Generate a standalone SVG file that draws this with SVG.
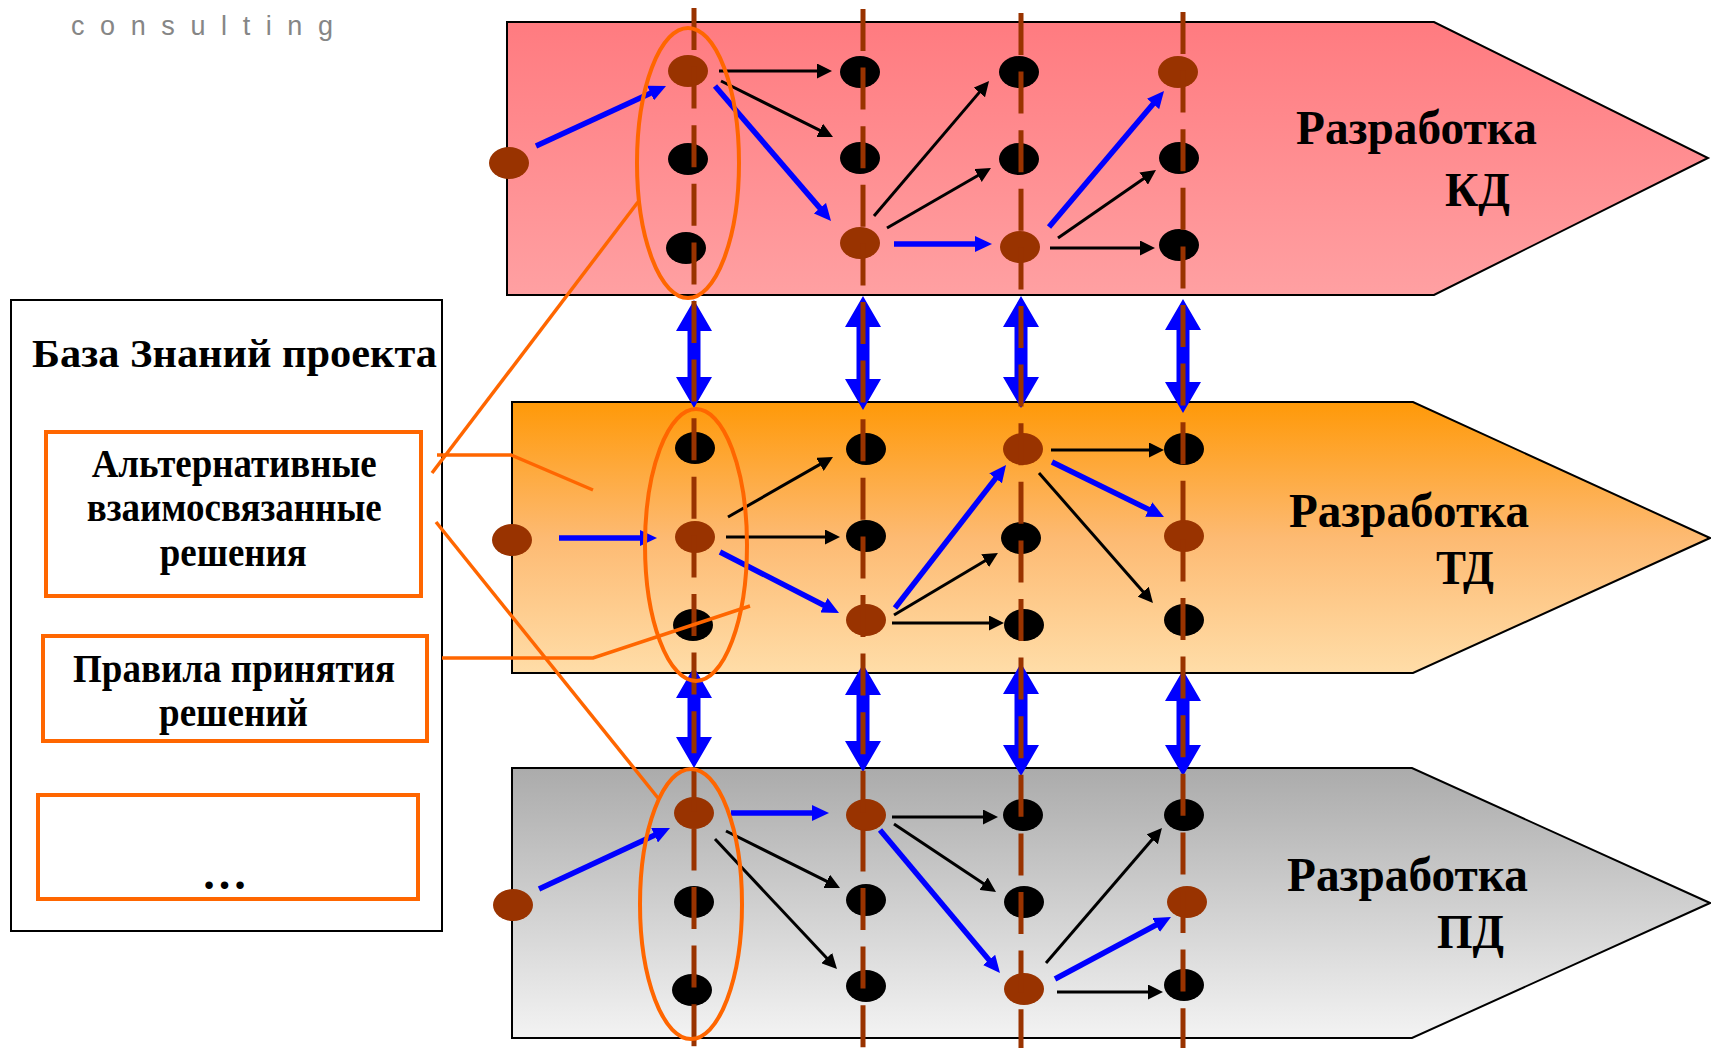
<svg xmlns="http://www.w3.org/2000/svg" width="1711" height="1048" viewBox="0 0 1711 1048">
  <style>
    .band { stroke: #000; stroke-width: 2; }
    .t { font-family: "Liberation Serif", "Times New Roman", serif; font-weight: bold; fill: #000; }
    .nb { fill: #993300; }
    .nk { fill: #000; }
    .col { stroke: #993300; stroke-width: 5; stroke-dasharray: 42 16.6; fill: none; }
    .dbl { fill: #0000FF; }
    .ak { stroke: #000; stroke-width: 3; fill: none; marker-end: url(#ah-k); }
    .ab { stroke: #0000FF; stroke-width: 5.5; fill: none; marker-end: url(#ah-b); }
    .sel { fill: none; stroke: #FF6600; stroke-width: 4; }
    .lead { fill: none; stroke: #FF6600; stroke-width: 3.5; }
    .box { fill: none; stroke: #FF6600; stroke-width: 4; }
  </style>
  <defs>
    <linearGradient id="g-kd" x1="0" y1="0" x2="0" y2="1">
      <stop offset="0" stop-color="#FF7B80"/>
      <stop offset="1" stop-color="#FFA0A2"/>
    </linearGradient>
    <linearGradient id="g-td" x1="0" y1="0" x2="0" y2="1">
      <stop offset="0" stop-color="#FF9908"/>
      <stop offset="0.5" stop-color="#FDBA72"/>
      <stop offset="1" stop-color="#FFDDA8"/>
    </linearGradient>
    <linearGradient id="g-pd" x1="0" y1="0" x2="0" y2="1">
      <stop offset="0" stop-color="#ABABAB"/>
      <stop offset="1" stop-color="#F3F3F3"/>
    </linearGradient>
    <marker id="ah-k" markerUnits="userSpaceOnUse" markerWidth="15" markerHeight="15" refX="2" refY="7.5" orient="auto">
      <path d="M0,0 L15,7.5 L0,15 z" fill="#000"/>
    </marker>
    <marker id="ah-b" markerUnits="userSpaceOnUse" markerWidth="17" markerHeight="16" refX="1" refY="8" orient="auto">
      <path d="M0,0 L17,8 L0,16 z" fill="#0000FF"/>
    </marker>
  </defs>

  <rect width="1711" height="1048" fill="#fff"/>

  <!-- logo caption -->
  <text x="71" y="35" font-family="Liberation Sans, Arial, sans-serif" font-size="27" fill="#868686" textLength="262" lengthAdjust="spacing">consulting</text>

  <!-- stage bands -->
  <g id="band-kd">
    <polygon class="band" fill="url(#g-kd)" points="507,22 1434,22 1708,158 1434,295 507,295"/>
    <text class="t" x="1296" y="144" font-size="48" textLength="241" lengthAdjust="spacingAndGlyphs">Разработка</text>
    <text class="t" x="1445" y="206" font-size="48" textLength="65" lengthAdjust="spacingAndGlyphs">КД</text>
  </g>
  <g id="band-td">
    <polygon class="band" fill="url(#g-td)" points="512,402 1413,402 1710,538 1413,673 512,673"/>
    <text class="t" x="1289" y="527" font-size="48" textLength="240" lengthAdjust="spacingAndGlyphs">Разработка</text>
    <text class="t" x="1436" y="584" font-size="48" textLength="58" lengthAdjust="spacingAndGlyphs">ТД</text>
  </g>
  <g id="band-pd">
    <polygon class="band" fill="url(#g-pd)" points="512,768 1412,768 1710,903 1412,1038 512,1038"/>
    <text class="t" x="1287" y="891" font-size="48" textLength="241" lengthAdjust="spacingAndGlyphs">Разработка</text>
    <text class="t" x="1437" y="948" font-size="48" textLength="67" lengthAdjust="spacingAndGlyphs">ПД</text>
  </g>

  <!-- links between stages -->
  <g id="stage-links">
    <path class="dbl" d="M694,300 L712,331 L700.5,331 L700.5,377 L712,377 L694,408 L676,377 L687.5,377 L687.5,331 L676,331 Z"/>
    <path class="dbl" d="M863,296 L881,327 L869.5,327 L869.5,379 L881,379 L863,410 L845,379 L856.5,379 L856.5,327 L845,327 Z"/>
    <path class="dbl" d="M1021,296 L1039,327 L1027.5,327 L1027.5,377 L1039,377 L1021,408 L1003,377 L1014.5,377 L1014.5,327 L1003,327 Z"/>
    <path class="dbl" d="M1183,299 L1201,330 L1189.5,330 L1189.5,382 L1201,382 L1183,413 L1165,382 L1176.5,382 L1176.5,330 L1165,330 Z"/>
    <path class="dbl" d="M694,667 L712,698 L700.5,698 L700.5,737 L712,737 L694,768 L676,737 L687.5,737 L687.5,698 L676,698 Z"/>
    <path class="dbl" d="M863,664 L881,695 L869.5,695 L869.5,741 L881,741 L863,772 L845,741 L856.5,741 L856.5,695 L845,695 Z"/>
    <path class="dbl" d="M1021,663 L1039,694 L1027.5,694 L1027.5,745 L1039,745 L1021,776 L1003,745 L1014.5,745 L1014.5,694 L1003,694 Z"/>
    <path class="dbl" d="M1183,670 L1201,701 L1189.5,701 L1189.5,745 L1201,745 L1183,776 L1165,745 L1176.5,745 L1176.5,701 L1165,701 Z"/>
  </g>

  <!-- decision nodes: KD -->
  <g id="kd-start"><ellipse class="nb" cx="509" cy="163" rx="20" ry="16"/></g>
  <g id="kd-c1-r1"><ellipse class="nb" cx="688" cy="71" rx="20" ry="16"/></g>
  <g id="kd-c1-r2"><ellipse class="nk" cx="688" cy="159" rx="20" ry="16"/></g>
  <g id="kd-c1-r3"><ellipse class="nk" cx="686" cy="248" rx="20" ry="16"/></g>
  <g id="kd-c2-r1"><ellipse class="nk" cx="860" cy="72" rx="20" ry="16"/></g>
  <g id="kd-c2-r2"><ellipse class="nk" cx="860" cy="158" rx="20" ry="16"/></g>
  <g id="kd-c2-r3"><ellipse class="nb" cx="860" cy="243" rx="20" ry="16"/></g>
  <g id="kd-c3-r1"><ellipse class="nk" cx="1019" cy="72" rx="20" ry="16"/></g>
  <g id="kd-c3-r2"><ellipse class="nk" cx="1019" cy="159" rx="20" ry="16"/></g>
  <g id="kd-c3-r3"><ellipse class="nb" cx="1020" cy="247" rx="20" ry="16"/></g>
  <g id="kd-c4-r1"><ellipse class="nb" cx="1178" cy="72" rx="20" ry="16"/></g>
  <g id="kd-c4-r2"><ellipse class="nk" cx="1179" cy="158" rx="20" ry="16"/></g>
  <g id="kd-c4-r3"><ellipse class="nk" cx="1179" cy="245" rx="20" ry="16"/></g>

  <!-- decision nodes: TD -->
  <g id="td-start"><ellipse class="nb" cx="512" cy="540" rx="20" ry="16"/></g>
  <g id="td-c1-r1"><ellipse class="nk" cx="695" cy="448" rx="20" ry="16"/></g>
  <g id="td-c1-r2"><ellipse class="nb" cx="695" cy="537" rx="20" ry="16"/></g>
  <g id="td-c1-r3"><ellipse class="nk" cx="693" cy="625" rx="20" ry="16"/></g>
  <g id="td-c2-r1"><ellipse class="nk" cx="866" cy="449" rx="20" ry="16"/></g>
  <g id="td-c2-r2"><ellipse class="nk" cx="866" cy="536" rx="20" ry="16"/></g>
  <g id="td-c2-r3"><ellipse class="nb" cx="866" cy="620" rx="20" ry="16"/></g>
  <g id="td-c3-r1"><ellipse class="nb" cx="1023" cy="449" rx="20" ry="16"/></g>
  <g id="td-c3-r2"><ellipse class="nk" cx="1021" cy="538" rx="20" ry="16"/></g>
  <g id="td-c3-r3"><ellipse class="nk" cx="1024" cy="625" rx="20" ry="16"/></g>
  <g id="td-c4-r1"><ellipse class="nk" cx="1184" cy="449" rx="20" ry="16"/></g>
  <g id="td-c4-r2"><ellipse class="nb" cx="1184" cy="536" rx="20" ry="16"/></g>
  <g id="td-c4-r3"><ellipse class="nk" cx="1184" cy="620" rx="20" ry="16"/></g>

  <!-- decision nodes: PD -->
  <g id="pd-start"><ellipse class="nb" cx="513" cy="905" rx="20" ry="16"/></g>
  <g id="pd-c1-r1"><ellipse class="nb" cx="694" cy="813" rx="20" ry="16"/></g>
  <g id="pd-c1-r2"><ellipse class="nk" cx="694" cy="902" rx="20" ry="16"/></g>
  <g id="pd-c1-r3"><ellipse class="nk" cx="692" cy="990" rx="20" ry="16"/></g>
  <g id="pd-c2-r1"><ellipse class="nb" cx="866" cy="815" rx="20" ry="16"/></g>
  <g id="pd-c2-r2"><ellipse class="nk" cx="866" cy="900" rx="20" ry="16"/></g>
  <g id="pd-c2-r3"><ellipse class="nk" cx="866" cy="986" rx="20" ry="16"/></g>
  <g id="pd-c3-r1"><ellipse class="nk" cx="1023" cy="815" rx="20" ry="16"/></g>
  <g id="pd-c3-r2"><ellipse class="nk" cx="1024" cy="902" rx="20" ry="16"/></g>
  <g id="pd-c3-r3"><ellipse class="nb" cx="1024" cy="989" rx="20" ry="16"/></g>
  <g id="pd-c4-r1"><ellipse class="nk" cx="1184" cy="815" rx="20" ry="16"/></g>
  <g id="pd-c4-r2"><ellipse class="nb" cx="1187" cy="902" rx="20" ry="16"/></g>
  <g id="pd-c4-r3"><ellipse class="nk" cx="1184" cy="985" rx="20" ry="16"/></g>

  <!-- time axes through the stages -->
  <g id="axes">
    <line class="col" x1="694" y1="8" x2="694" y2="1048"/>
    <line class="col" x1="863" y1="9" x2="863" y2="1048"/>
    <line class="col" x1="1021" y1="13" x2="1021" y2="1048"/>
    <line class="col" x1="1183" y1="12" x2="1183" y2="1048"/>
  </g>

  <!-- transitions between decisions -->
  <g id="connectors">
    <!-- KD -->
    <line class="ab" x1="536" y1="146" x2="651.5" y2="92.7"/>
    <line class="ak" x1="719" y1="71" x2="819" y2="71"/>
    <line class="ak" x1="721" y1="81" x2="821.4" y2="131.2"/>
    <line class="ab" x1="715" y1="86" x2="820.6" y2="208.9"/>
    <line class="ak" x1="874" y1="216" x2="980.6" y2="90.9"/>
    <line class="ak" x1="887" y1="228" x2="979.7" y2="174.5"/>
    <line class="ab" x1="894" y1="244" x2="976" y2="244"/>
    <line class="ab" x1="1049" y1="227" x2="1153.7" y2="103.2"/>
    <line class="ak" x1="1058" y1="238" x2="1145.3" y2="177.4"/>
    <line class="ak" x1="1050" y1="248" x2="1142" y2="248"/>
    <!-- TD -->
    <line class="ab" x1="559" y1="538" x2="641" y2="538"/>
    <line class="ak" x1="728" y1="517" x2="821.7" y2="463.4"/>
    <line class="ak" x1="726" y1="537" x2="827" y2="537"/>
    <line class="ab" x1="720" y1="552" x2="824.8" y2="605.7"/>
    <line class="ab" x1="895" y1="608" x2="996.2" y2="477.6"/>
    <line class="ak" x1="894" y1="615" x2="986.8" y2="559.7"/>
    <line class="ak" x1="892" y1="623" x2="991" y2="623"/>
    <line class="ak" x1="1051" y1="450" x2="1151" y2="450"/>
    <line class="ab" x1="1052" y1="462" x2="1149.6" y2="509.9"/>
    <line class="ak" x1="1039" y1="473" x2="1144.4" y2="593.2"/>
    <!-- PD -->
    <line class="ab" x1="539" y1="889" x2="655.5" y2="834.8"/>
    <line class="ab" x1="731" y1="813" x2="813" y2="813"/>
    <line class="ak" x1="726" y1="831" x2="828.4" y2="882.2"/>
    <line class="ak" x1="715" y1="839" x2="828.1" y2="959.5"/>
    <line class="ak" x1="892" y1="817" x2="985" y2="817"/>
    <line class="ak" x1="894" y1="824" x2="985.2" y2="884.8"/>
    <line class="ab" x1="880" y1="830" x2="989.7" y2="960.7"/>
    <line class="ak" x1="1046" y1="963" x2="1153.5" y2="837.9"/>
    <line class="ab" x1="1055" y1="979" x2="1156.9" y2="924.5"/>
    <line class="ak" x1="1057" y1="992" x2="1150" y2="992"/>
  </g>

  <!-- alternative sets in the first column -->
  <g id="alt-kd"><ellipse class="sel" cx="688" cy="163" rx="51" ry="135"/></g>
  <g id="alt-td"><ellipse class="sel" cx="696" cy="545" rx="51" ry="136"/></g>
  <g id="alt-pd"><ellipse class="sel" cx="691" cy="904" rx="51" ry="135"/></g>

  <!-- project knowledge base -->
  <g id="knowledge-base">
    <rect x="11" y="300" width="431" height="631" fill="#fff" stroke="#000" stroke-width="2"/>
    <text class="t" x="234.5" y="367" font-size="40" text-anchor="middle" textLength="405" lengthAdjust="spacingAndGlyphs">База Знаний проекта</text>
  </g>
  <g id="kb-alternatives">
    <rect class="box" x="46" y="432" width="375" height="164"/>
    <text class="t" x="234.2" y="477" font-size="41" text-anchor="middle" textLength="285" lengthAdjust="spacingAndGlyphs">Альтернативные</text>
    <text class="t" x="234.2" y="521" font-size="41" text-anchor="middle" textLength="295" lengthAdjust="spacingAndGlyphs">взаимосвязанные</text>
    <text class="t" x="233.3" y="565.5" font-size="41" text-anchor="middle" textLength="147" lengthAdjust="spacingAndGlyphs">решения</text>
  </g>
  <g id="kb-rules">
    <rect class="box" x="43" y="636" width="384" height="105"/>
    <text class="t" x="234" y="682" font-size="41" text-anchor="middle" textLength="322" lengthAdjust="spacingAndGlyphs">Правила принятия</text>
    <text class="t" x="233.5" y="726" font-size="41" text-anchor="middle" textLength="149" lengthAdjust="spacingAndGlyphs">решений</text>
  </g>
  <g id="kb-more">
    <rect class="box" x="38" y="795" width="380" height="104"/>
    <text class="t" x="224.5" y="889" font-size="46" text-anchor="middle">…</text>
  </g>

  <!-- leaders from the knowledge base to the alternative sets -->
  <g id="kb-leaders">
    <polyline class="lead" points="432,473 638,202"/>
    <polyline class="lead" points="437,455 511,455 593,490"/>
    <polyline class="lead" points="436,522 658,798"/>
    <polyline class="lead" points="442,658 593,658 750,606"/>
  </g>
</svg>
